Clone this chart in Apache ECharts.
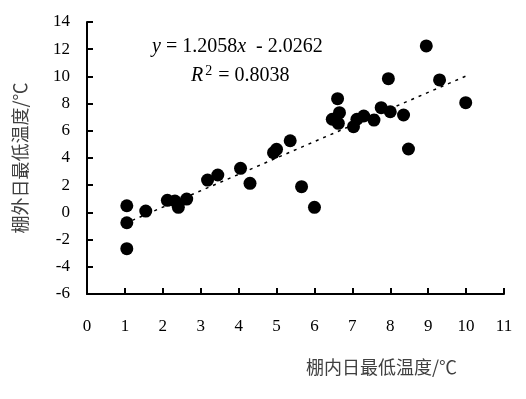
<!DOCTYPE html>
<html>
<head>
<meta charset="utf-8">
<script src="https://cdn.jsdelivr.net/npm/echarts@6/dist/echarts.min.js"></script>
<style>
  html, body { margin: 0; padding: 0; background: #fff; }
  #chart { width: 526px; height: 399px; }
</style>
</head>
<body>
<div id="chart"></div>
<script>
// inside min temp (x) vs outside min temp (y)
const insideTemp = [1.05, 1.05, 1.05, 1.55, 2.12, 2.32, 2.41, 2.63, 3.18, 3.45,
  4.05, 4.3, 4.92, 5.0, 5.36, 5.66, 6.0, 6.47, 6.61, 6.63,
  6.66, 7.03, 7.12, 7.3, 7.57, 7.76, 7.95, 8.0, 8.35, 8.48,
  8.95, 9.3, 9.99];
const outsideTemp = [0.49, -0.76, -2.67, 0.1, 0.89, 0.84, 0.37, 0.98, 2.38, 2.75,
  3.24, 2.14, 4.39, 4.64, 5.27, 1.89, 0.37, 6.85, 8.36, 6.55,
  7.33, 6.3, 6.85, 7.09, 6.79, 7.7, 9.83, 7.4, 7.16, 4.66,
  12.24, 9.74, 8.07];
// fitted line ends (y = 1.2058x - 2.0262)
const trendX = [1, 10];
const trendY = [-0.82, 10.03];

const xTicks = [0, 11, 1];
const yTicks = [-6, 14, 2];

const serif = '"Liberation Serif", "Times New Roman", serif';
const cjk = '"Noto Sans CJK SC", sans-serif';
const chart = echarts.init(document.getElementById('chart'), null, { renderer: 'canvas' });

const option = {
  animation: false,
  grid: { left: 87, right: 22, top: 22, bottom: 105 },
  xAxis: {
    type: 'value',
    min: xTicks[0], max: xTicks[1], interval: xTicks[2],
    axisLine: { onZero: false, lineStyle: { color: '#000', width: 2 } },
    axisTick: { inside: true, length: 6, lineStyle: { color: '#000', width: 2 } },
    axisLabel: { color: '#000', fontFamily: serif, fontSize: 17, margin: 24 },
    splitLine: { show: false }
  },
  yAxis: {
    type: 'value',
    min: yTicks[0], max: yTicks[1], interval: yTicks[2],
    name: '棚外日最低温度/℃',
    nameLocation: 'middle',
    nameGap: 58,
    nameTextStyle: { color: '#404040', fontSize: 18, fontFamily: cjk },
    axisLine: { onZero: false, lineStyle: { color: '#000', width: 2 } },
    axisTick: { inside: true, length: 6, lineStyle: { color: '#000', width: 2 } },
    axisLabel: { color: '#000', fontFamily: serif, fontSize: 17, margin: 17 },
    splitLine: { show: false }
  },
  graphic: [
    {
      type: 'text', left: 306, top: 358,
      style: { text: '棚内日最低温度/℃', fill: '#404040', fontSize: 18, fontFamily: cjk }
    },
    {
      type: 'text', left: 152, top: 37,
      style: {
        text: '{i|y} = 1.2058{i|x}  - 2.0262',
        fill: '#000', fontSize: 20, fontFamily: serif,
        rich: { i: { fontStyle: 'italic', fontSize: 20, fontFamily: serif } }
      }
    },
    {
      type: 'text', left: 191, top: 64,
      style: {
        text: '{i|R}{s|2} = 0.8038',
        fill: '#000', fontSize: 20, fontFamily: serif,
        rich: {
          i: { fontStyle: 'italic', fontSize: 20, fontFamily: serif },
          s: { fontSize: 14, fontFamily: serif, padding: [0, 1, 10, 2] }
        }
      }
    }
  ],
  series: [
    {
      type: 'line',
      data: trendX.map((x, i) => [x, trendY[i]]),
      symbol: 'none',
      lineStyle: { color: '#000', width: 1.5, type: [3, 5] },
      z: 1
    },
    {
      type: 'scatter',
      data: insideTemp.map((x, i) => [x, outsideTemp[i]]),
      symbol: 'circle',
      symbolSize: 13,
      itemStyle: { color: '#000', opacity: 1 },
      z: 2
    }
  ]
};
chart.setOption(option);
</script>
</body>
</html>
